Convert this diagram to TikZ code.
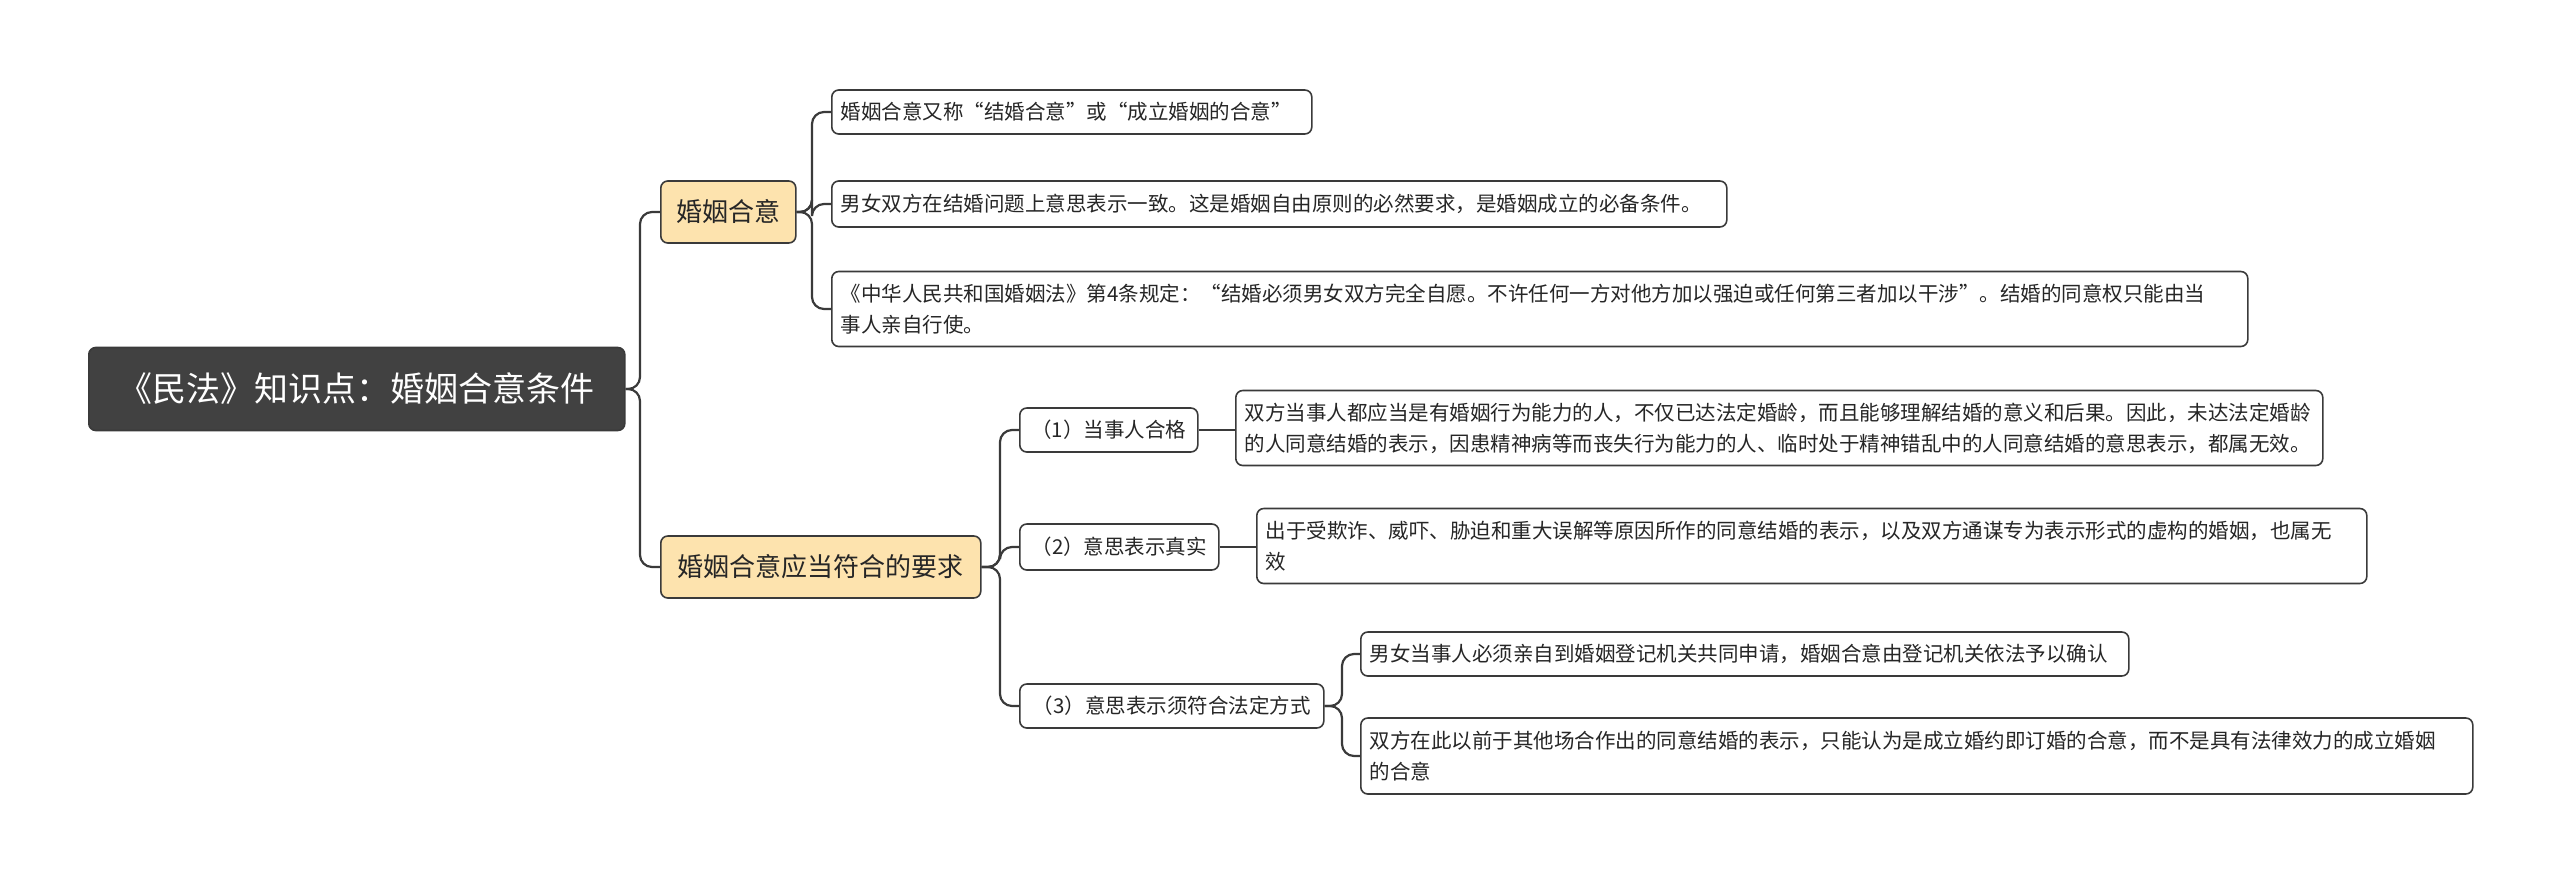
\documentclass[tikz,border=0pt]{standalone}
\usepackage{fontspec}
\setmainfont{Noto Sans CJK SC}
\definecolor{ln}{HTML}{3A3A3A}
\definecolor{rootc}{HTML}{414141}
\definecolor{brc}{HTML}{FDE3AE}
\tikzset{
  base/.style={draw=ln, line width=1.6pt, rounded corners=7pt, anchor=west, align=left, inner ysep=0pt, text=black!85},
  root/.style={base, fill=rootc, text=white, font=\fontsize{34}{40}\selectfont, inner xsep=0pt, align=center},
  br/.style={base, fill=brc, font=\fontsize{26}{32}\selectfont, inner xsep=0pt, align=center},
  leaf/.style={base, fill=white, font=\fontsize{20.5}{31}\selectfont, inner xsep=9pt},
  sub/.style={base, fill=white, font=\fontsize{20.5}{31}\selectfont, inner xsep=0pt, align=center},
  conn/.style={draw=ln, line width=2.2pt, rounded corners=12pt}
}
\begin{document}
\begin{tikzpicture}[x=1pt,y=-1pt]
\useasboundingbox (0,0) rectangle (2560,883);
\node[root, minimum width=536pt, minimum height=83pt] (r) at (88,389) {《民法》知识点：婚姻合意条件};
\node[br, minimum width=135pt, minimum height=62pt] (b1) at (660,212) {婚姻合意};
\node[br, minimum width=320pt, minimum height=62pt] (b2) at (660,567) {婚姻合意应当符合的要求};

\node[leaf, text width=462pt, minimum height=44pt] (l1) at (831,112) {婚姻合意又称“结婚合意”或“成立婚姻的合意”};
\node[leaf, text width=877pt, minimum height=46pt] (l2) at (831,204) {男女双方在结婚问题上意思表示一致。这是婚姻自由原则的必然要求，是婚姻成立的必备条件。};
\node[leaf, text width=1398pt, minimum height=75pt] (l3) at (831,309) {《中华人民共和国婚姻法》第4条规定：“结婚必须男女双方完全自愿。不许任何一方对他方加以强迫或任何第三者加以干涉”。结婚的同意权只能由当\\事人亲自行使。};

\node[sub, minimum width=178pt, minimum height=44pt] (s1) at (1019,430) {（1）当事人合格};
\node[sub, minimum width=199pt, minimum height=46pt] (s2) at (1019,547) {（2）意思表示真实};
\node[sub, minimum width=304pt, minimum height=44pt] (s3) at (1019,706) {（3）意思表示须符合法定方式};

\node[leaf, text width=1069pt, minimum height=75pt] (t1) at (1235,428) {双方当事人都应当是有婚姻行为能力的人，不仅已达法定婚龄，而且能够理解结婚的意义和后果。因此，未达法定婚龄\\的人同意结婚的表示，因患精神病等而丧失行为能力的人、临时处于精神错乱中的人同意结婚的意思表示，都属无效。};
\node[leaf, text width=1092pt, minimum height=75pt] (t2) at (1256,546) {出于受欺诈、威吓、胁迫和重大误解等原因所作的同意结婚的表示，以及双方通谋专为表示形式的虚构的婚姻，也属无\\效};
\node[leaf, text width=750pt, minimum height=44pt] (t3) at (1360,654) {男女当事人必须亲自到婚姻登记机关共同申请，婚姻合意由登记机关依法予以确认};
\node[leaf, text width=1094pt, minimum height=76pt] (t4) at (1360,756) {双方在此以前于其他场合作出的同意结婚的表示，只能认为是成立婚约即订婚的合意，而不是具有法律效力的成立婚姻\\的合意};

\foreach \c in {b1,b2} \draw[conn] (r.east) -- (640,389) |- (\c.west);
\foreach \c in {l1,l2,l3} \draw[conn] (b1.east) -- (812,212) |- (\c.west);
\foreach \c in {s1,s2,s3} \draw[conn] (b2.east) -- (1000,567) |- (\c.west);
\draw[conn] (s1.east) -- (t1.west |- s1.east);
\draw[conn] (s2.east) -- (t2.west |- s2.east);
\foreach \c in {t3,t4} \draw[conn] (s3.east) -- (1342,706) |- (\c.west);
\end{tikzpicture}
\end{document}
